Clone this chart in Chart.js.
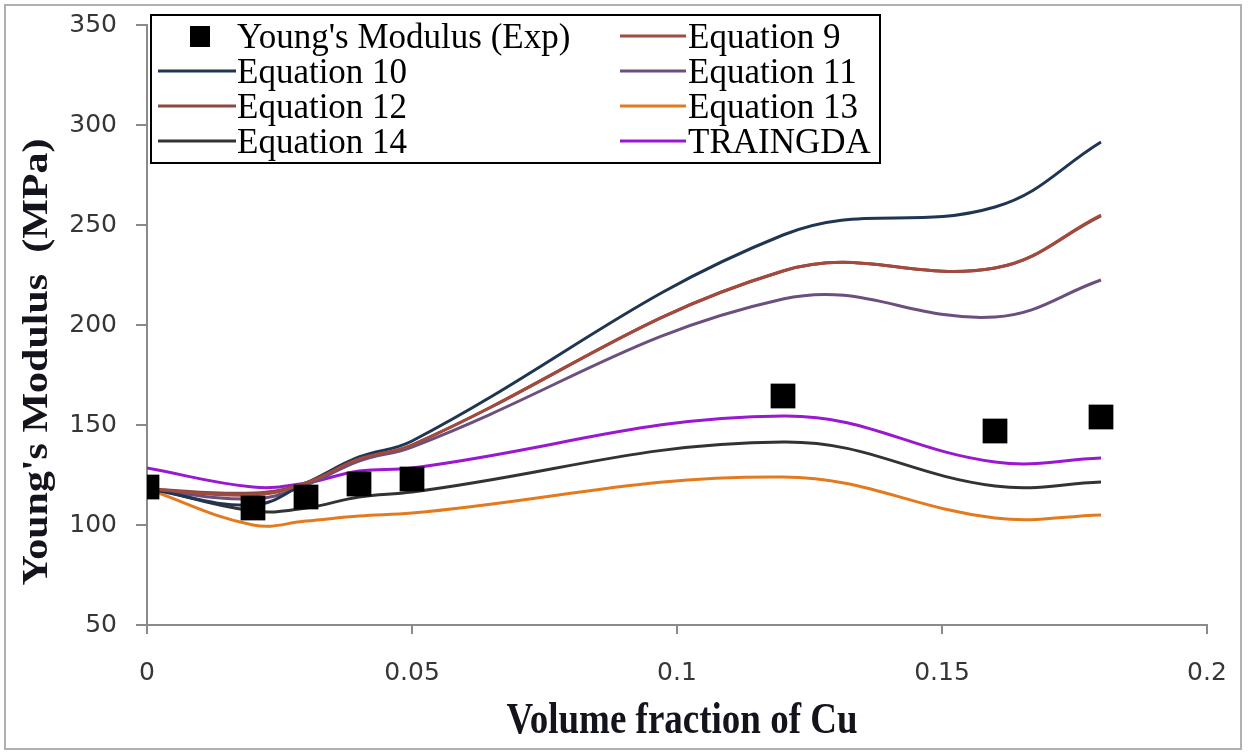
<!DOCTYPE html>
<html>
<head>
<meta charset="utf-8">
<script src="https://cdn.jsdelivr.net/npm/chart.js@4/dist/chart.umd.min.js"></script>
<style>
  html, body { margin: 0; padding: 0; background: #fff; }
  #wrap { width: 1248px; height: 752px; position: relative; }
</style>
</head>
<body>
<div id="wrap"><canvas id="c" width="1248" height="752"></canvas></div>
<script>
// Volume fraction of Cu (x values shared by every series)
const volumeFraction = [0, 0.02, 0.03, 0.04, 0.05, 0.12, 0.16, 0.18];

// Young's modulus, MPa
const youngsExp = [119, 108.5, 114, 120.5, 123, 164.5, 147, 154];
const eq9       = [118, 115, 121, 133, 140, 227, 228.5, 255];
const eq10      = [118, 110, 121, 134, 142, 245, 259, 291.5];
const eq11      = [118, 113, 120, 132, 139, 213, 204, 222.5];
const eq12      = [118, 116, 121, 133, 140, 227, 228.5, 254.5];
const eq13      = [118, 100, 102, 104.5, 106, 124, 103.5, 105];
const eq14      = [119, 107, 108.5, 114, 116.5, 141.5, 119.5, 121.5];
const traingda  = [128.5, 119, 121, 127, 128.5, 154.5, 131.5, 133.5];

// Axis ticks
const xTickValues = [0, 0.05, 0.1, 0.15, 0.2];
const yTickValues = [50, 100, 150, 200, 250, 300, 350];

// Series names, in legend order (two columns, row by row)
const seriesNames = ["Young's Modulus (Exp)", "Equation 9", "Equation 10", "Equation 11",
                     "Equation 12", "Equation 13", "Equation 14", "TRAINGDA"];
const seriesColors = ["#000000", "#a24a3e", "#1f3552", "#6b4f7e",
                      "#8c4842", "#e47a1e", "#333333", "#9a18d2"];
const seriesValues = [youngsExp, eq9, eq10, eq11, eq12, eq13, eq14, traingda];

const toPoints = vals => volumeFraction.map((x, i) => ({ x: x, y: vals[i] }));

const datasets = seriesValues.map((vals, i) => {
  if (i === 0) {
    return {
      label: seriesNames[i],
      data: toPoints(vals),
      showLine: false,
      pointStyle: 'rect',
      pointRadius: 17.5,
      pointHoverRadius: 17.5,
      pointBackgroundColor: '#000',
      pointBorderWidth: 0,
      borderColor: '#000',
      backgroundColor: '#000'
    };
  }
  return {
    label: seriesNames[i],
    data: toPoints(vals),
    showLine: true,
    borderColor: seriesColors[i],
    backgroundColor: seriesColors[i],
    borderWidth: 3,
    pointRadius: 0,
    tension: 0.4,
    fill: false
  };
});

// Two-column boxed legend, outer frame and axis titles
const decorPlugin = {
  id: 'decor',
  afterDraw(chart) {
    const ctx = chart.ctx;
    ctx.save();

    // outer frame
    ctx.strokeStyle = '#b0b0b0';
    ctx.lineWidth = 2;
    ctx.strokeRect(5, 5, 1236, 744);

    // axis titles
    ctx.fillStyle = '#14141c';
    ctx.font = 'bold 37px "Liberation Serif", "Times New Roman", serif';
    ctx.textAlign = 'center';
    ctx.textBaseline = 'alphabetic';
    ctx.save();
    ctx.translate(682, 733);
    ctx.scale(1, 1.2);
    ctx.fillText('Volume fraction of Cu', 0, 0);
    ctx.restore();

    ctx.save();
    ctx.translate(47, 362);
    ctx.rotate(-Math.PI / 2);
    ctx.scale(1.2, 1);
    ctx.font = 'bold 35px "Liberation Serif", "Times New Roman", serif';
    ctx.fillText("Young's Modulus  (MPa)", 0, 0);
    ctx.restore();

    // legend box
    const bx = 151, by = 15, bw = 729, bh = 148;
    ctx.fillStyle = '#fff';
    ctx.fillRect(bx, by, bw, bh);
    ctx.strokeStyle = '#000';
    ctx.lineWidth = 2;
    ctx.strokeRect(bx, by, bw, bh);

    const baselines = [48, 83, 118, 153];
    const cols = [
      { lineFrom: 158, lineTo: 236, text: 237, marker: 200 },
      { lineFrom: 620, lineTo: 686, text: 688 }
    ];
    ctx.font = '35px "Liberation Serif", "Times New Roman", serif';
    ctx.textAlign = 'left';
    chart.data.datasets.forEach((ds, i) => {
      const row = Math.floor(i / 2), col = cols[i % 2];
      const base = baselines[row];
      const mid = base - 12;
      if (ds.showLine === false) {
        ctx.fillStyle = ds.pointBackgroundColor;
        ctx.fillRect(col.marker - 10, mid - 10, 20, 21);
      } else {
        ctx.strokeStyle = ds.borderColor;
        ctx.lineWidth = 3;
        ctx.beginPath();
        ctx.moveTo(col.lineFrom, mid);
        ctx.lineTo(col.lineTo, mid);
        ctx.stroke();
      }
      ctx.fillStyle = '#000';
      ctx.fillText(ds.label, col.text, base);
    });

    ctx.restore();
  }
};

new Chart(document.getElementById('c'), {
  type: 'scatter',
  data: { datasets: datasets },
  plugins: [decorPlugin],
  options: {
    responsive: false,
    animation: false,
    events: [],
    layout: { padding: { left: 0, top: 25, right: 41, bottom: 0 } },
    plugins: {
      legend: { display: false },
      tooltip: { enabled: false },
      title: { display: false }
    },
    scales: {
      x: {
        type: 'linear',
        min: xTickValues[0],
        max: xTickValues[xTickValues.length - 1],
        afterBuildTicks: s => { s.ticks = xTickValues.map(v => ({ value: v })); },
        afterFit: s => { s.height = 127; s.paddingLeft = 0; s.paddingRight = 0; },
        border: { display: true, color: '#8a8a8a', width: 2 },
        grid: { drawOnChartArea: false, drawTicks: true, tickLength: 9, color: '#8a8a8a', lineWidth: 2 },
        ticks: {
          padding: 24,
          color: '#363636',
          font: { family: '"DejaVu Sans", Verdana, sans-serif', size: 25 },
          callback: v => String(v)
        }
      },
      y: {
        type: 'linear',
        min: yTickValues[0],
        max: yTickValues[yTickValues.length - 1],
        afterBuildTicks: s => { s.ticks = yTickValues.map(v => ({ value: v })); },
        afterFit: s => { s.width = 147; s.paddingTop = 0; s.paddingBottom = 0; },
        border: { display: true, color: '#8a8a8a', width: 2 },
        grid: { drawOnChartArea: false, drawTicks: true, tickLength: 11, color: '#8a8a8a', lineWidth: 2 },
        ticks: {
          padding: 19,
          color: '#363636',
          font: { family: '"DejaVu Sans", Verdana, sans-serif', size: 25 },
          callback: v => String(v)
        }
      }
    }
  }
});
</script>
</body>
</html>
